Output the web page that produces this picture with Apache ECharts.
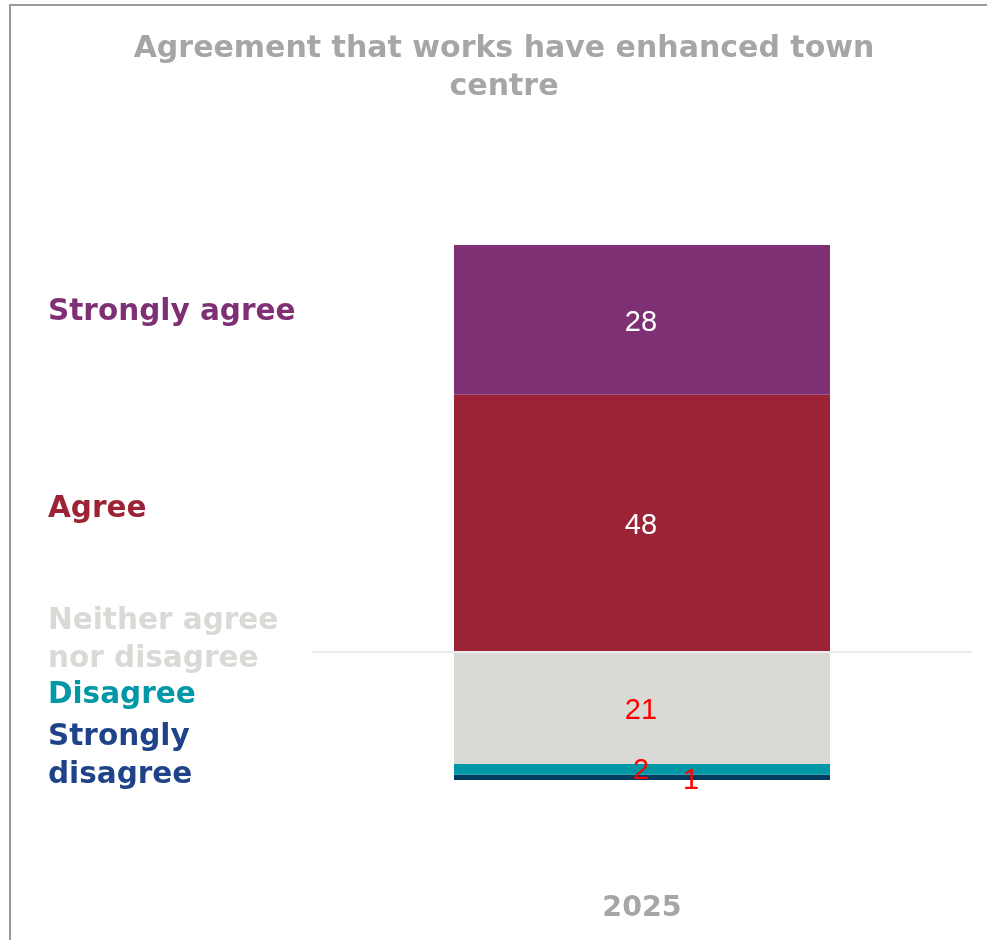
<!DOCTYPE html>
<html>
<head>
<meta charset="utf-8">
<script src="https://cdn.jsdelivr.net/npm/echarts@6/dist/echarts.min.js"></script>
<style>
  html, body { margin: 0; padding: 0; background: #ffffff; }
  #chart { width: 987px; height: 940px; }
</style>
</head>
<body>
<div id="chart"></div>
<script>
// Survey year (single stacked column)
const years = ['2025'];

// Response categories, bottom of the stack first
const responses = ['Strongly disagree', 'Disagree', 'Neither agree nor disagree', 'Agree', 'Strongly agree'];

// Share of respondents (%) per response
const stronglyDisagree = [1];
const disagree = [2];
const neither = [21];
const agree = [48];
const stronglyAgree = [28];

const values = [stronglyDisagree, disagree, neither, agree, stronglyAgree];
const fills = ['#033B5E', '#0097A7', '#D9D9D6', '#9B2335', '#7F3074'];
const textColors = ['#1F4389', '#0097A7', '#D9D9D6', '#9B2335', '#7F3074'];
const labelColors = ['#FF0000', '#FF0000', '#FF0000', '#FFFFFF', '#FFFFFF'];
const labelOffsets = [[49, 4], [-1, 2], [-1, 3], [-1, 3], [-1, 3]];

const keyFont = 'bold 29.5px "DejaVu Sans", sans-serif';

// Left-hand key: wrapped names and their vertical placement
const keyLines = [
  { text: 'Strongly\ndisagree', y: 756 },
  { text: 'Disagree', y: 695 },
  { text: 'Neither agree\nnor disagree', y: 640 },
  { text: 'Agree', y: 509 },
  { text: 'Strongly agree', y: 312 }
];

const chart = echarts.init(document.getElementById('chart'), null, { renderer: 'canvas' });

const series = responses.map((name, i) => ({
  name: name,
  type: 'bar',
  stack: 'total',
  barWidth: 376,
  data: values[i],
  itemStyle: { color: fills[i] },
  label: {
    show: true,
    position: 'inside',
    offset: labelOffsets[i],
    color: labelColors[i],
    fontFamily: 'Liberation Sans, Arial, sans-serif',
    fontSize: 29
  },
  emphasis: { disabled: true }
}));

// Reference line at the boundary between agreement and the rest
series[2].markLine = {
  silent: true,
  symbol: 'none',
  label: { show: false },
  lineStyle: { color: '#EBEBEB', width: 2, type: 'solid' },
  data: [{ yAxis: stronglyDisagree[0] + disagree[0] + neither[0] }]
};

const keyTexts = responses.map((name, i) => ({
  type: 'text',
  left: 48,
  top: keyLines[i].y - (keyLines[i].text.indexOf('\n') >= 0 ? 19 : 0) - 19,
  style: {
    text: keyLines[i].text,
    fill: textColors[i],
    font: keyFont,
    lineHeight: 38
  }
}));

chart.setOption({
  animation: false,
  backgroundColor: '#ffffff',
  title: {
    text: 'Agreement that works have enhanced town\ncentre',
    left: 499,
    textAlign: 'center',
    top: 25,
    textStyle: {
      color: '#A6A6A6',
      fontFamily: '"DejaVu Sans", sans-serif',
      fontWeight: 'bold',
      fontSize: 30,
      lineHeight: 38
    }
  },
  grid: { left: 312, right: 15, top: 245, bottom: 160 },
  xAxis: {
    type: 'category',
    data: years,
    axisLine: { show: false },
    axisTick: { show: false },
    axisLabel: {
      margin: 114,
      color: '#A6A6A6',
      fontFamily: '"DejaVu Sans", sans-serif',
      fontWeight: 'bold',
      fontSize: 28.5
    }
  },
  yAxis: {
    type: 'value',
    min: 0,
    max: 100,
    show: false,
    splitLine: { show: false }
  },
  series: series,
  graphic: [
    // Frame edges along the top and left
    { type: 'rect', left: 10, top: 4, shape: { width: 977, height: 2 }, style: { fill: '#9A9A9A' } },
    { type: 'rect', left: 9, top: 4, shape: { width: 2, height: 936 }, style: { fill: '#9A9A9A' } }
  ].concat(keyTexts)
});
</script>
</body>
</html>
